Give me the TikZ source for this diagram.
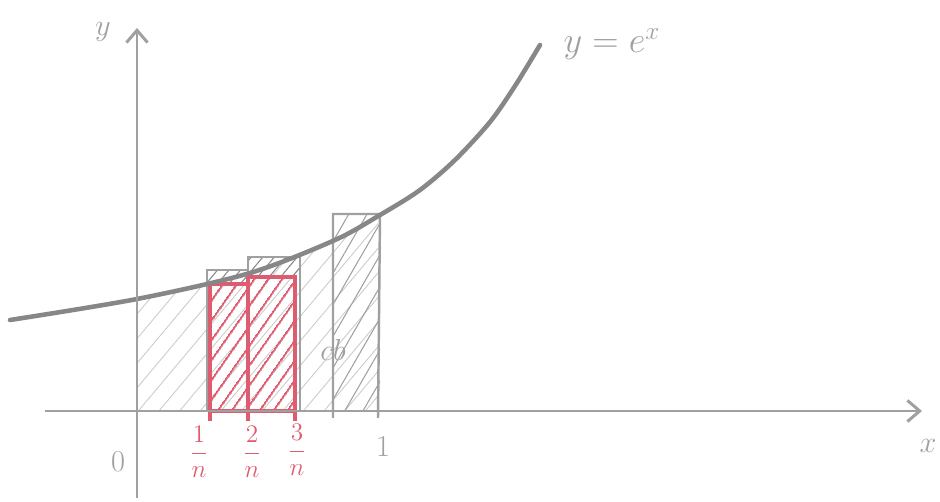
\documentclass[tikz,border=0pt]{standalone}
\usepackage{amsmath,amssymb,amsfonts}
\usetikzlibrary{patterns.meta,arrows.meta}
\definecolor{pencil}{RGB}{160,160,160}
\definecolor{darkpencil}{RGB}{135,135,135}
\definecolor{redpencil}{RGB}{222,92,112}

\begin{document}
\begin{tikzpicture}[x=0.02cm, y=-0.02cm,
        axis/.style ={draw=pencil, line width=1.7pt, -{Straight Barb[length=7pt,width=12pt]}},
        bar/.style  ={draw=pencil, line width=1.4pt},
        redbar/.style ={draw=redpencil, line width=1.8pt,
            pattern={Lines[angle=55,distance=6.5pt,line width=1.2pt]}, pattern color=redpencil},
        lbl/.style ={text=pencil, font=\LARGE, inner sep=2pt},
        redlbl/.style ={text=redpencil, font=\Large, inner sep=2pt}]
    \useasboundingbox (0,0) rectangle (940,502);

    %--- Area under the curve ---
    \fill[pattern={Lines[angle=50,distance=9pt,line width=0.5pt]}, pattern color=pencil!55]
        (137,411) -- plot[smooth] coordinates {(137,299) (250,273) (335,240) (378,215)}
        -- (378,411) -- cycle;

    %--- Grey rectangles ---
    \fill[pattern={Lines[angle=50,distance=5pt,line width=0.6pt]}, pattern color=darkpencil]
        (207,270) rectangle (248,284);
    \fill[pattern={Lines[angle=50,distance=5pt,line width=0.6pt]}, pattern color=darkpencil]
        (248,257) rectangle (300,276);
    \fill[pattern={Lines[angle=60,distance=9pt,line width=0.6pt]}, pattern color=pencil]
        (333,214) rectangle (380,411);
    \draw[bar] (207,411) rectangle (248,270);
    \draw[bar] (248,411) rectangle (300,257);
    \draw[bar] (333,418) -- (333,214) -- (380,214) -- (378,418);

    %--- Red rectangles ---
    \draw[redbar] (210,411) rectangle (248,284);
    \draw[redbar] (248,411) rectangle (295,277);
    \draw[redpencil, line width=1.8pt] (210,411) -- (210,421);
    \draw[redpencil, line width=1.8pt] (248,411) -- (248,421);
    \draw[redpencil, line width=1.8pt] (295,411) -- (295,421);

    %--- Curve ---
    \draw[darkpencil, line width=2.6pt, line cap=round] plot[smooth] coordinates
        {(10,320) (137,299) (250,273) (335,240) (380,215) (420,190) (455,160)
         (490,122) (515,86) (540,45)};

    %--- Axes ---
    \coordinate (xstart) at (45,411);
    \coordinate (xend) at (922,411);
    \coordinate (ystart) at (137,498);
    \coordinate (yend) at (137,28);
    \draw[axis] (xstart) -- (xend);
    \draw[axis] (ystart) -- (yend);

    %--- Labels ---
    \node[lbl] (ylab) at (103,32) {$y$};
    \node[lbl] (xlab) at (928,446) {$x$};
    \node[lbl] (orig) at (118,462) {$0$};
    \node[lbl] (one) at (383,447) {$1$};
    \node[lbl, font=\huge] (curvelab) at (612,44) {$y = e^{x}$};
    \node[lbl] (cb) at (333,350) {$cb$};
    \node[redlbl] (tick1) at (199,452) {$\dfrac{1}{n}$};
    \node[redlbl] (tick2) at (252,452) {$\dfrac{2}{n}$};
    \node[redlbl] (tick3) at (297,450) {$\dfrac{3}{n}$};
\end{tikzpicture}
\end{document}
